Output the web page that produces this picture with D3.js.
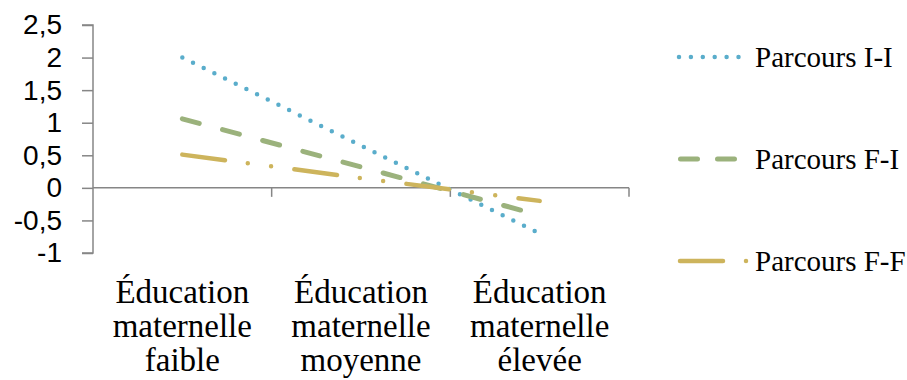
<!DOCTYPE html>
<html>
<head>
<meta charset="utf-8">
<script src="https://cdn.jsdelivr.net/npm/d3@7/dist/d3.min.js"></script>
<style>
  body { margin: 0; background: #fff; }
  svg { display: block; }
</style>
</head>
<body>
<div id="chart"></div>
<script>
// data
const categories = ["Éducation maternelle faible", "Éducation maternelle moyenne", "Éducation maternelle élevée"];
const categoryLines = [["Éducation", "maternelle", "faible"], ["Éducation", "maternelle", "moyenne"], ["Éducation", "maternelle", "élevée"]];
const seriesNames = ["Parcours I-I", "Parcours F-I", "Parcours F-F"];
const parcoursII = [2.0, 0.65, -0.70];
const parcoursFI = [1.06, 0.32, -0.42];
const parcoursFF = [0.51, 0.15, -0.20];
const yTicks = [-1, -0.5, 0, 0.5, 1, 1.5, 2, 2.5];

const W = 907, H = 380;
const plot = {left: 93, right: 629, top: 25, bottom: 253};

const styles = [
    {color: "#5aadcb", dash: "0,11.9", width: 4.5},
    {color: "#9bb27c", dash: "17.5,24.1", width: 5},
    {color: "#cdb45c", dash: "43,23,0,23.5,0,23.5", width: 4.5}
];
const allSeries = [parcoursII, parcoursFI, parcoursFF];

const svg = d3.select("#chart").append("svg")
    .attr("width", W)
    .attr("height", H);

const x = d3.scaleBand()
    .domain(categories)
    .range([plot.left, plot.right])
    .padding(0);

const y = d3.scaleLinear()
    .domain([-1, 2.5])
    .range([plot.bottom, plot.top]);

// y axis
const yAxis = svg.append("g")
    .attr("transform", `translate(${plot.left},0)`)
    .call(d3.axisLeft(y)
        .tickValues(yTicks)
        .tickSize(11)
        .tickPadding(20)
        .tickFormat(d => String(d).replace(".", ",")));
yAxis.select(".domain").attr("stroke", "#868686").attr("stroke-width", 1.5)
    .attr("d", `M-11,${y(2.5)}H0V${y(-1)}H-11`);
yAxis.selectAll(".tick line").attr("stroke", "#868686").attr("stroke-width", 1.5);
yAxis.selectAll(".tick text")
    .attr("fill", "#000")
    .style("font-family", "'Liberation Sans', Arial, sans-serif")
    .style("font-size", "28px");

// category axis sits on the zero line, ticks at band edges
const xAxis = svg.append("g");
xAxis.append("line")
    .attr("x1", plot.left).attr("x2", plot.right)
    .attr("y1", y(0)).attr("y2", y(0))
    .attr("stroke", "#868686").attr("stroke-width", 1.5);
const edges = categories.map(c => x(c)).concat([x(categories[categories.length - 1]) + x.bandwidth()]);
xAxis.selectAll("line.edge")
    .data(edges.slice(1))
    .join("line")
    .attr("class", "edge")
    .attr("x1", d => d).attr("x2", d => d)
    .attr("y1", y(0)).attr("y2", y(0) + 9)
    .attr("stroke", "#868686").attr("stroke-width", 1.5);

// category labels
const labels = svg.append("g")
    .style("font-family", "'Liberation Serif', 'Times New Roman', serif")
    .style("font-size", "33px")
    .attr("text-anchor", "middle");
categories.forEach((c, i) => {
    const t = labels.append("text")
        .attr("x", x(c) + x.bandwidth() / 2)
        .attr("y", 303);
    categoryLines[i].forEach((ln, j) => {
        t.append("tspan")
            .attr("x", x(c) + x.bandwidth() / 2)
            .attr("dy", j === 0 ? 0 : 34)
            .text(ln);
    });
});

// series lines
const line = d3.line()
    .x((d, i) => x(categories[i]) + x.bandwidth() / 2)
    .y(d => y(d));

svg.append("g")
    .selectAll("path")
    .data(allSeries)
    .join("path")
    .attr("d", d => line(d))
    .attr("fill", "none")
    .attr("stroke", (d, i) => styles[i].color)
    .attr("stroke-width", (d, i) => styles[i].width)
    .attr("stroke-linecap", "round")
    .attr("stroke-dasharray", (d, i) => styles[i].dash);

// legend
const legendY = [57, 159, 261];
const legendSeg = [[679, 740], [680.5, 739.5], [680, 747]];
const legend = svg.append("g");
seriesNames.forEach((name, i) => {
    legend.append("line")
        .attr("x1", legendSeg[i][0]).attr("x2", legendSeg[i][1])
        .attr("y1", legendY[i]).attr("y2", legendY[i])
        .attr("stroke", styles[i].color)
        .attr("stroke-width", styles[i].width)
        .attr("stroke-linecap", "round")
        .attr("stroke-dasharray", i === 1 ? "17,20" : styles[i].dash);
    legend.append("text")
        .attr("x", 755)
        .attr("y", legendY[i])
        .attr("dy", "0.35em")
        .style("font-family", "'Liberation Serif', 'Times New Roman', serif")
        .style("font-size", "29px")
        .text(name);
});
</script>
</body>
</html>
